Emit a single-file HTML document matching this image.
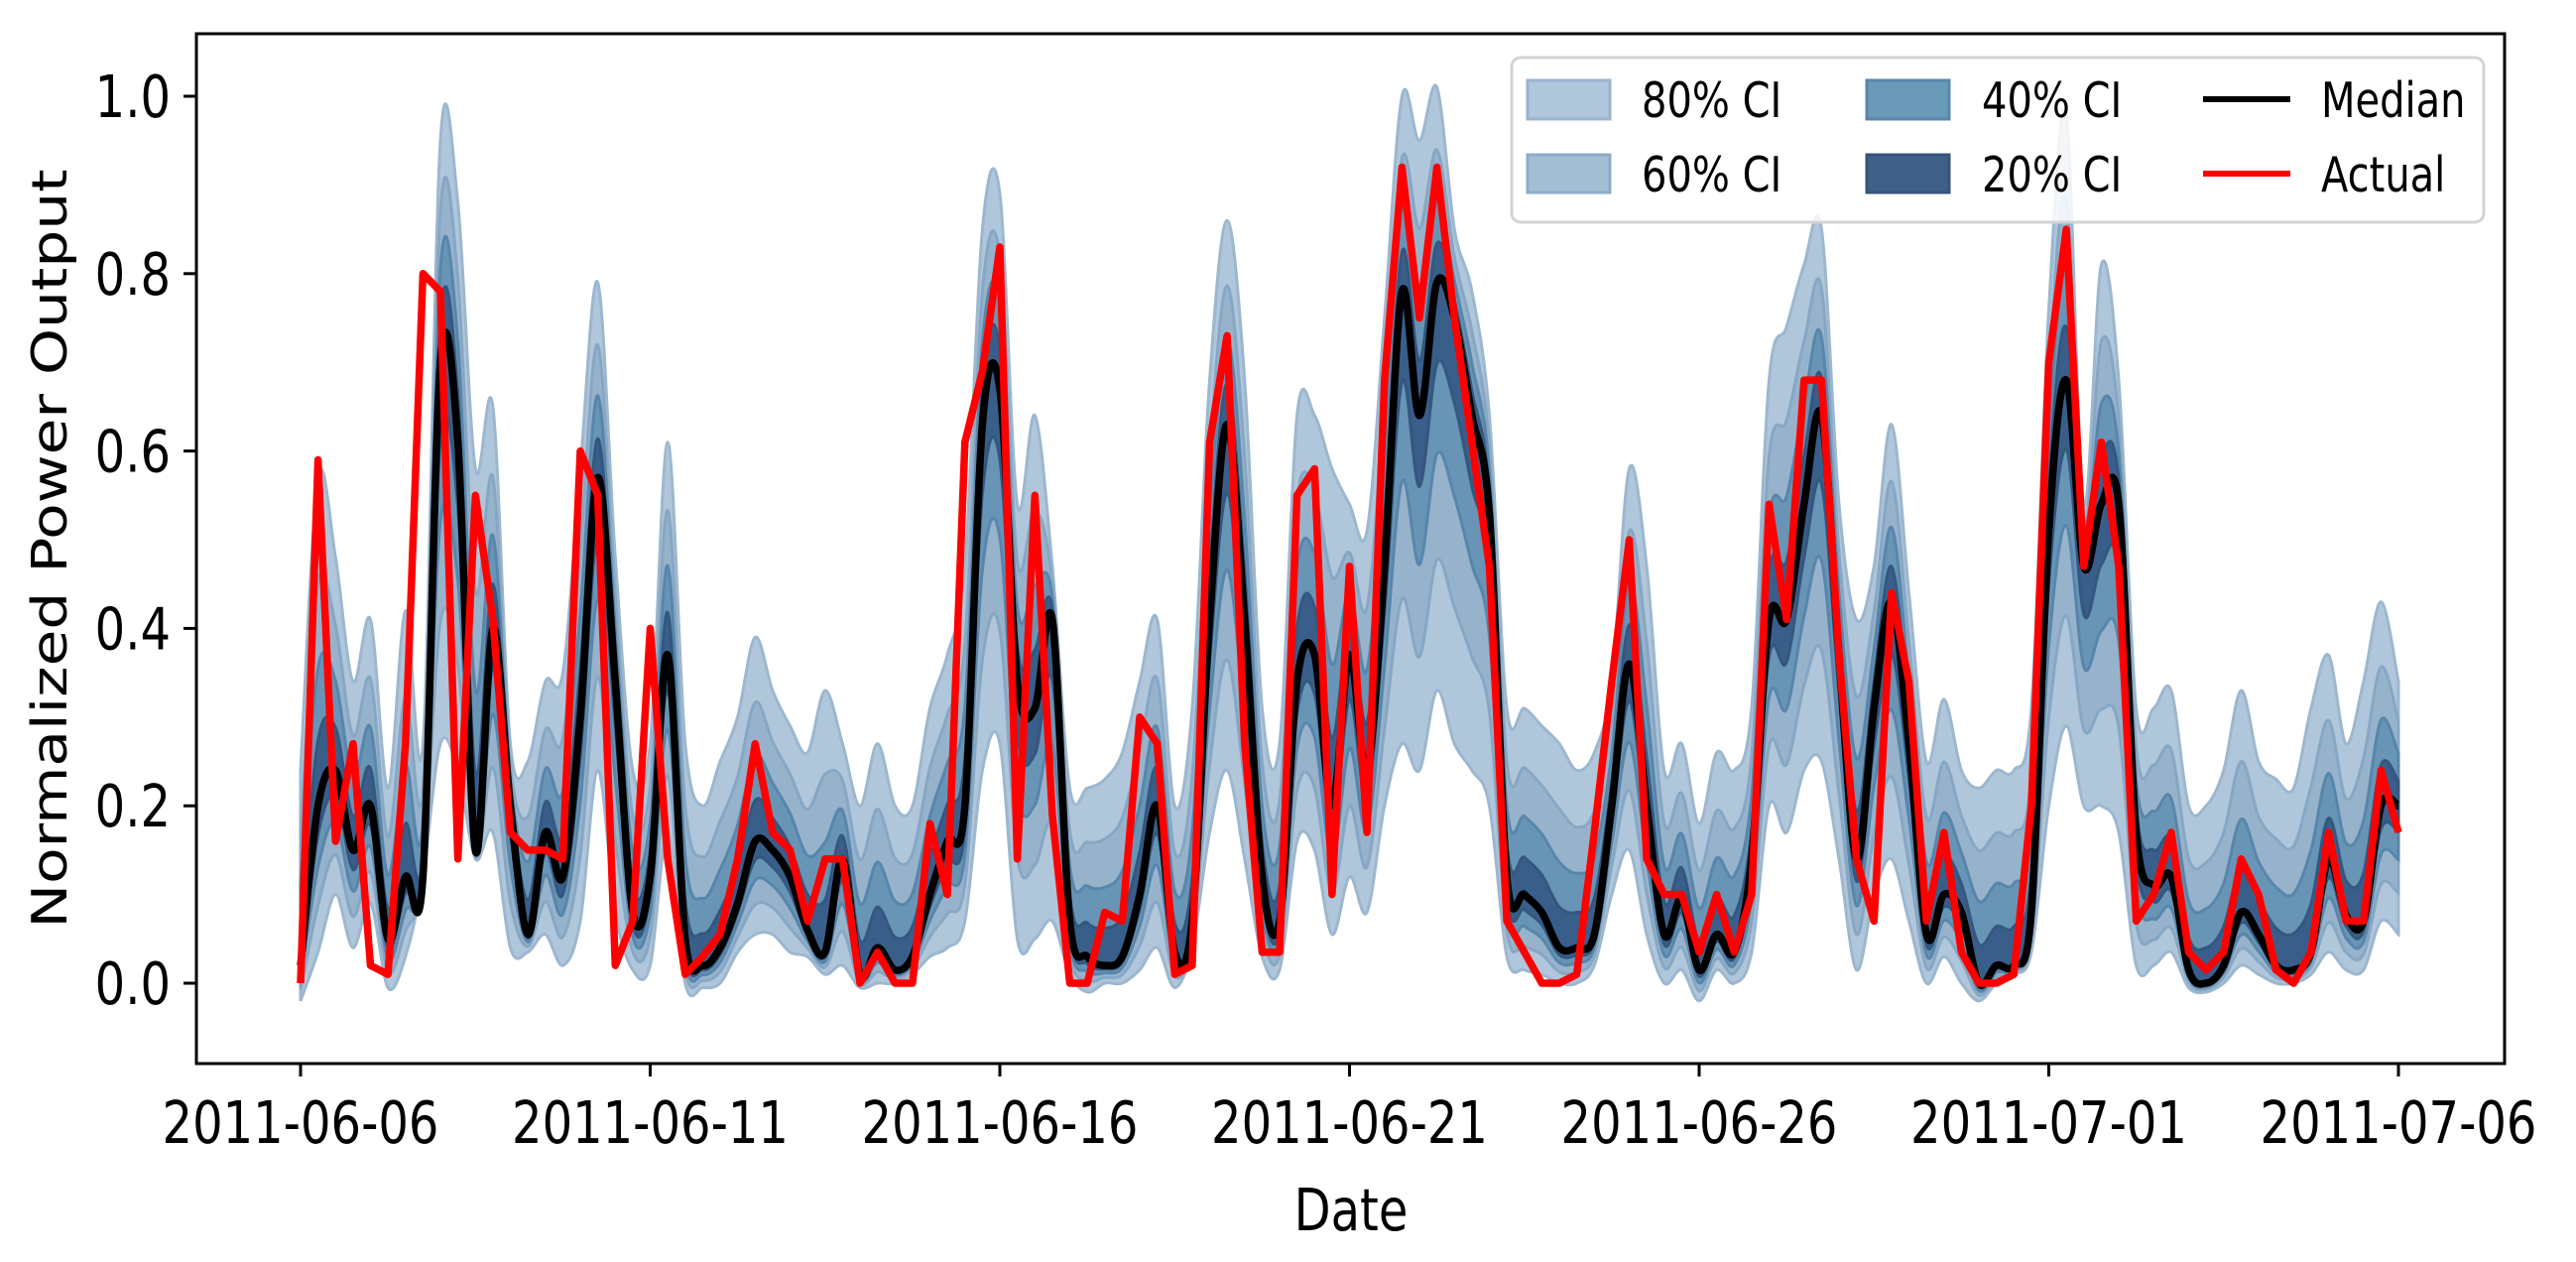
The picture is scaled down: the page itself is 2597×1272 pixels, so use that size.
<!DOCTYPE html>
<html><head><meta charset="utf-8"><style>
html,body{margin:0;padding:0;background:#fff;}
svg{display:block;font-family:"DejaVu Sans","Liberation Sans",sans-serif;}
</style></head><body>
<svg id="chart" width="2597" height="1272" viewBox="0 0 2597 1272" xmlns="http://www.w3.org/2000/svg">
<defs><clipPath id="clip"><rect x="198" y="34" width="2327" height="1038"/></clipPath></defs>
<g id="bands" clip-path="url(#clip)"></g>
<rect x="198" y="34" width="2327" height="1038" fill="none" stroke="#000" stroke-width="3"/>
<g id="yaxis"></g>
<g id="xaxis"></g>
<text transform="translate(67,553) scale(1,1.22) rotate(-90)" font-size="49" text-anchor="middle">Normalized Power Output</text>
<text transform="translate(1362,1240) scale(1,1.22)" font-size="48" text-anchor="middle">Date</text>
<g>
<rect x="1524" y="58" width="980" height="166" rx="9" fill="#fff" fill-opacity="0.85" stroke="#d3d3d3" stroke-width="3"/>
<rect x="1540" y="81" width="83" height="39" fill="#b0c6da" stroke="#98b4cf" stroke-width="3"/>
<rect x="1540" y="156" width="83" height="38" fill="#a3bdd4" stroke="#8cabc8" stroke-width="3"/>
<rect x="1882" y="81" width="83" height="39" fill="#6a9ab8" stroke="#5587ab" stroke-width="3"/>
<rect x="1882" y="156" width="83" height="38" fill="#3f6089" stroke="#35547e" stroke-width="3"/>
<line x1="2221" y1="100" x2="2309" y2="100" stroke="#000" stroke-width="6"/>
<line x1="2221" y1="175" x2="2309" y2="175" stroke="#f00" stroke-width="6"/>
<g font-size="40">
<text transform="translate(1655,118) scale(1,1.22)">80% CI</text>
<text transform="translate(1655,193) scale(1,1.22)">60% CI</text>
<text transform="translate(1998,118) scale(1,1.22)">40% CI</text>
<text transform="translate(1998,193) scale(1,1.22)">20% CI</text>
<text transform="translate(2340,118) scale(1,1.22)">Median</text>
<text transform="translate(2340,193) scale(1,1.22)">Actual</text>
</g>
</g>
</svg>
<script>
// 6-hourly samples, day 0 (2011-06-06) .. day 30 (2011-07-06)
const stepDays = 0.25;
const median = [0.02,0.2,0.24,0.15,0.2,0.05,0.12,0.12,0.70,0.61,0.15,0.40,0.2,0.055,0.17,0.12,0.3,0.57,0.34,0.08,0.12,0.37,0.05,0.02,
0.04,0.09,0.16,0.15,0.12,0.06,0.035,0.14,0.01,0.04,0.015,0.03,0.1,0.16,0.2,0.63,0.67,0.34,0.31,0.41,0.07,0.03,0.02,0.03,
0.1,0.2,0.035,0.07,0.41,0.63,0.41,0.12,0.07,0.34,0.37,0.2,0.37,0.24,0.47,0.78,0.64,0.79,0.75,0.64,0.53,0.12,0.1,0.08,
0.04,0.04,0.055,0.2,0.36,0.2,0.055,0.095,0.015,0.055,0.035,0.14,0.41,0.41,0.54,0.64,0.37,0.14,0.31,0.43,0.27,0.055,0.1,0.08,
0.0,0.02,0.02,0.08,0.51,0.68,0.47,0.54,0.54,0.17,0.11,0.12,0.015,0,0.02,0.08,0.055,0.02,0.015,0.035,0.14,0.077,0.07,0.2,0.2];
const actual = [0,0.59,0.16,0.27,0.02,0.01,0.27,0.8,0.78,0.14,0.55,0.41,0.17,0.15,0.15,0.14,0.6,0.55,0.02,0.07,0.4,0.14,0.01,0.03,
0.055,0.14,0.27,0.17,0.15,0.07,0.14,0.14,0,0.035,0,0,0.18,0.1,0.61,0.69,0.83,0.14,0.55,0.19,0,0,0.08,0.07,
0.3,0.27,0.01,0.02,0.61,0.73,0.27,0.035,0.035,0.55,0.58,0.1,0.47,0.17,0.68,0.92,0.75,0.92,0.75,0.61,0.47,0.07,0.035,0,
0,0.01,0.17,0.34,0.5,0.14,0.1,0.1,0.035,0.1,0.035,0.1,0.54,0.41,0.68,0.68,0.37,0.14,0.07,0.44,0.34,0.07,0.17,0.035,
0,0,0.01,0.2,0.7,0.85,0.47,0.61,0.47,0.07,0.1,0.17,0.035,0.015,0.035,0.14,0.1,0.015,0,0.035,0.17,0.07,0.07,0.24,0.17];
const hi80 = [0.24,0.57,0.48,0.34,0.41,0.22,0.42,0.27,0.95,0.88,0.58,0.65,0.27,0.25,0.34,0.35,0.58,0.79,0.48,0.24,0.27,0.61,0.27,0.2,
0.25,0.3,0.39,0.33,0.29,0.26,0.33,0.27,0.2,0.27,0.2,0.2,0.31,0.37,0.47,0.85,0.89,0.54,0.64,0.47,0.22,0.22,0.23,0.26,
0.34,0.41,0.2,0.31,0.68,0.86,0.68,0.31,0.27,0.64,0.64,0.58,0.54,0.51,0.75,1.0,0.95,1.01,0.85,0.78,0.64,0.31,0.31,0.29,
0.27,0.24,0.26,0.34,0.58,0.47,0.24,0.27,0.18,0.26,0.24,0.31,0.68,0.74,0.81,0.85,0.54,0.41,0.47,0.63,0.44,0.25,0.32,0.24,
0.22,0.24,0.24,0.31,0.76,0.98,0.54,0.81,0.68,0.31,0.31,0.33,0.2,0.2,0.24,0.33,0.25,0.23,0.22,0.31,0.37,0.27,0.34,0.43,0.34];
const lo80 = [-0.02,0.035,0.1,0.04,0.09,-0.005,0.03,0.12,0.27,0.24,0.14,0.17,0.04,0.035,0.055,0.02,0.07,0.24,0.08,0.015,0.02,0.17,0.0,-0.005,
0.0,0.035,0.055,0.055,0.035,0.03,0.01,0.02,-0.005,0,0,0.01,0.03,0.04,0.07,0.24,0.27,0.05,0.05,0.07,0.01,-0.01,0,0,
0.015,0.04,-0.005,0.04,0.17,0.24,0.14,0.03,0.015,0.16,0.15,0.055,0.12,0.08,0.2,0.27,0.24,0.33,0.27,0.24,0.2,0.03,0.015,0.01,
0.0,0,0.02,0.1,0.15,0.055,0,0.015,-0.02,0.015,0,0.035,0.2,0.17,0.24,0.25,0.14,0.015,0.1,0.14,0.07,0,0.03,0,
-0.02,0,0.01,0.035,0.2,0.29,0.2,0.2,0.17,0.02,0.02,0.035,-0.005,-0.01,0,0.02,0.01,0,0,0.01,0.035,0.015,0.015,0.07,0.055];
const bandLevels = ["80","60","40","20"];
const bandSpread = [1.0, 0.68, 0.42, 0.2]; // relative width of each CI vs the 80% interval
const yTickValues = [0.0,0.2,0.4,0.6,0.8,1.0];
const yTickLabels = ["0.0","0.2","0.4","0.6","0.8","1.0"];
const xTickDays = [0,5,10,15,20,25,30];
const xTickLabels = ["2011-06-06","2011-06-11","2011-06-16","2011-06-21","2011-06-26","2011-07-01","2011-07-06"];

const NS = "http://www.w3.org/2000/svg";
const xS = d => 303 + d * 70.5;
const yS = v => 991 - v * 894;
const bandFill = ["#b0c6da","#97b3cc","#6895b6","#3a5e8a"];
const bandEdge = ["#9cb7d0","#86a7c4","#5886ab","#34577f"];

function smooth(pts){
  let d = "M" + pts[0][0].toFixed(1) + "," + pts[0][1].toFixed(1);
  for (let i = 0; i < pts.length - 1; i++){
    const p0 = pts[Math.max(0,i-1)], p1 = pts[i], p2 = pts[i+1], p3 = pts[Math.min(pts.length-1,i+2)];
    const c1x = p1[0] + (p2[0]-p0[0])/6, c1y = p1[1] + (p2[1]-p0[1])/6;
    const c2x = p2[0] - (p3[0]-p1[0])/6, c2y = p2[1] - (p3[1]-p1[1])/6;
    d += "C" + c1x.toFixed(1) + "," + c1y.toFixed(1) + " " + c2x.toFixed(1) + "," + c2y.toFixed(1) + " " + p2[0].toFixed(1) + "," + p2[1].toFixed(1);
  }
  return d;
}
const bands = document.getElementById("bands");
bandLevels.forEach((lvl, b) => {
  const up = [], dn = [];
  median.forEach((m, i) => {
    const x = xS(i * stepDays);
    up.push([x, yS(m + (hi80[i] - m) * bandSpread[b])]);
    dn.push([x, yS(m - (m - lo80[i]) * bandSpread[b])]);
  });
  const rev = dn.slice().reverse();
  const dUp = smooth(up);
  const dDn = smooth(rev);
  const p = document.createElementNS(NS, "path");
  p.setAttribute("d", dUp + "L" + dDn.slice(1) + "Z");
  p.setAttribute("fill", bandFill[b]);
  p.setAttribute("stroke", bandEdge[b]);
  p.setAttribute("stroke-width", "3");
  
  
  bands.appendChild(p);
});
const medPath = document.createElementNS(NS, "path");
medPath.setAttribute("d", smooth(median.map((m, i) => [xS(i * stepDays), yS(m)])));
medPath.setAttribute("fill", "none");
medPath.setAttribute("stroke", "#000");
medPath.setAttribute("stroke-width", "7.5");


bands.appendChild(medPath);
const actPath = document.createElementNS(NS, "path");
actPath.setAttribute("d", "M" + actual.map((a, i) => xS(i * stepDays).toFixed(1) + "," + yS(a).toFixed(1)).join("L"));
actPath.setAttribute("fill", "none");
actPath.setAttribute("stroke", "#f00");
actPath.setAttribute("stroke-width", "7.5");
actPath.setAttribute("stroke-linejoin", "round");


bands.appendChild(actPath);

const yax = document.getElementById("yaxis");
yTickValues.forEach((v, i) => {
  const y = yS(v);
  const t = document.createElementNS(NS, "line");
  t.setAttribute("x1", 185); t.setAttribute("x2", 198);
  t.setAttribute("y1", y); t.setAttribute("y2", y);
  t.setAttribute("stroke", "#000"); t.setAttribute("stroke-width", "3");
  
  
  yax.appendChild(t);
  const l = document.createElementNS(NS, "text");
  l.setAttribute("transform", "translate(172," + (y + 21) + ") scale(1,1.22)");
  l.setAttribute("font-size", "48");
  l.setAttribute("text-anchor", "end");
  l.textContent = yTickLabels[i];
  
  
  yax.appendChild(l);
});
const xax = document.getElementById("xaxis");
xTickDays.forEach((d, i) => {
  const x = xS(d);
  const t = document.createElementNS(NS, "line");
  t.setAttribute("x1", x); t.setAttribute("x2", x);
  t.setAttribute("y1", 1072); t.setAttribute("y2", 1085);
  t.setAttribute("stroke", "#000"); t.setAttribute("stroke-width", "3");
  
  
  xax.appendChild(t);
  const l = document.createElementNS(NS, "text");
  l.setAttribute("transform", "translate(" + x + ",1152) scale(1,1.22)");
  l.setAttribute("font-size", "48");
  l.setAttribute("text-anchor", "middle");
  l.textContent = xTickLabels[i];
  
  
  xax.appendChild(l);
});
</script>
</body></html>
